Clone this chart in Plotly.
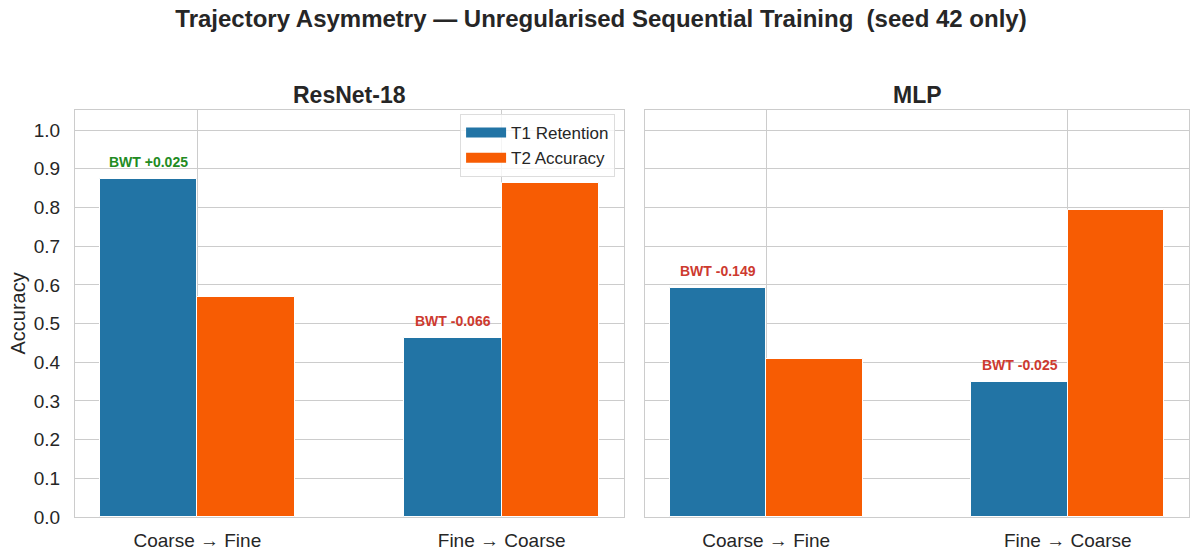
import plotly.graph_objects as go
from plotly.subplots import make_subplots

categories = ["Coarse → Fine", "Fine → Coarse"]
models = ["ResNet-18", "MLP"]
t1_retention = {"ResNet-18": [0.873, 0.463], "MLP": [0.592, 0.349]}
t2_accuracy = {"ResNet-18": [0.568, 0.863], "MLP": [0.408, 0.793]}
bwt = {"ResNet-18": [0.025, -0.066], "MLP": [-0.149, -0.025]}
series_names = ["T1 Retention", "T2 Accuracy"]

BLUE = "#2274A5"
ORANGE = "#F75C03"
GREEN = "#228B22"
RED = "#CD3A2F"
TXT = "#262626"
GRID = "#CCCCCC"
FONT = "Liberation Sans, Arial, sans-serif"
W = 0.32

L, R, T, B = 75, 3, 110, 33
FW, FH = 1192, 550
PW = FW - L - R

fig = make_subplots(rows=1, cols=2, shared_yaxes=True, horizontal_spacing=0.0)

for i, m in enumerate(models):
    col = i + 1
    fig.add_trace(go.Bar(x=categories, y=t1_retention[m], name=series_names[0],
                         marker=dict(color=BLUE, line=dict(color="white", width=1)),
                         width=W, offset=-W, showlegend=False), row=1, col=col)
    fig.add_trace(go.Bar(x=categories, y=t2_accuracy[m], name=series_names[1],
                         marker=dict(color=ORANGE, line=dict(color="white", width=1)),
                         width=W, offset=0, showlegend=False), row=1, col=col)
    xref = "x" if col == 1 else "x2"
    yref = "y" if col == 1 else "y2"
    for j, b in enumerate(bwt[m]):
        fig.add_annotation(x=j - W / 2, y=t1_retention[m][j], xref=xref, yref=yref,
                           text=f"<b>BWT {b:+.3f}</b>", showarrow=False,
                           yanchor="bottom", yshift=7,
                           font=dict(size=14, color=GREEN if b >= 0 else RED, family=FONT))

# legend entries (wide rectangle swatches like the reference)
for name, c in zip(series_names, [BLUE, ORANGE]):
    fig.add_trace(go.Scatter(x=[None], y=[None], mode="lines", name=name,
                             line=dict(color=c, width=11), showlegend=True), row=1, col=1)

d1 = (624 - L) / PW
d2 = (645 - L) / PW
axis_common = dict(showline=True, mirror=True, linecolor=GRID, linewidth=1.25,
                   showgrid=True, gridcolor=GRID, gridwidth=1.2, ticks="",
                   tickfont=dict(size=19, color=TXT, family=FONT), zeroline=False,
                   automargin=False)
fig.update_xaxes(**axis_common, type="category", range=[-0.402, 1.402], ticklabelstandoff=6)
fig.update_yaxes(**axis_common, range=[0, 1.052], dtick=0.1, tickformat=".1f", ticklabelstandoff=10)
fig.update_layout(xaxis=dict(domain=[0, d1]), xaxis2=dict(domain=[d2, 1]))
fig.update_yaxes(showticklabels=False, row=1, col=2)

# y-axis title
fig.add_annotation(x=(17 - L) / PW, y=0.5, xref="paper", yref="paper",
                   xanchor="center", yanchor="middle", textangle=-90,
                   text="Accuracy", showarrow=False,
                   font=dict(size=20, color=TXT, family=FONT))

for i, m in enumerate(models):
    xc = (d1 / 2) if i == 0 else (d2 + (1 - d2) / 2)
    fig.add_annotation(x=xc, y=1, xref="paper", yref="paper",
                       xanchor="center", yanchor="bottom", yshift=0,
                       text=f"<b>{m}</b>", showarrow=False,
                       font=dict(size=23, color=TXT, family=FONT))

fig.update_layout(
    width=FW, height=FH,
    margin=dict(l=L, r=R, t=T, b=B),
    paper_bgcolor="white", plot_bgcolor="white",
    barmode="overlay", bargap=0,
    title=dict(text="<b>Trajectory Asymmetry — Unregularised Sequential Training  (seed 42 only)</b>",
               x=601 / FW, xanchor="center", y=0.967, yanchor="middle",
               font=dict(size=24, color=TXT, family=FONT)),
    legend=dict(x=d1 - 0.008, xanchor="right", y=0.99, yanchor="top",
                bgcolor="rgba(255,255,255,0.8)", bordercolor="#DDDDDD", borderwidth=1,
                font=dict(size=17, color=TXT, family=FONT), tracegroupgap=0, itemwidth=40),
    font=dict(family=FONT, color=TXT),
)

fig.write_html("out.html", config={"displayModeBar": False},
               post_script="document.body.style.margin='0';document.body.style.overflow='hidden';")
